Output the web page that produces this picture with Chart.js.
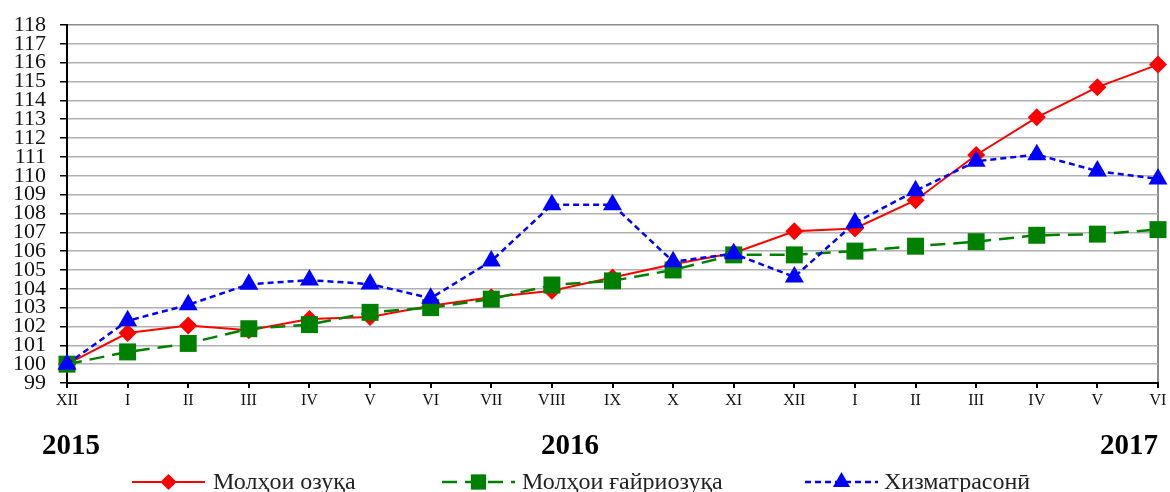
<!DOCTYPE html>
<html>
<head>
<meta charset="utf-8">
<script src="https://cdn.jsdelivr.net/npm/chart.js@4"></script>
<style>
  html, body { margin: 0; padding: 0; background: #fff; }
  .chart-box { width: 1170px; height: 492px; position: relative; }
</style>
</head>
<body>
<div class="chart-box"><canvas id="priceChart"></canvas></div>
<script>
// Chart data (index, XII 2015 = 100)
const months = ['XII', 'I', 'II', 'III', 'IV', 'V', 'VI', 'VII', 'VIII', 'IX', 'X', 'XI', 'XII', 'I', 'II', 'III', 'IV', 'V', 'VI'];
const foodValues = [100, 101.65, 102.05, 101.8, 102.4, 102.5, 103.1, 103.55, 103.9, 104.6, 105.3, 105.9, 107.05, 107.2, 108.7, 111.1, 113.1, 114.7, 115.9];
const nonFoodValues = [100, 100.65, 101.1, 101.88, 102.1, 102.75, 103.0, 103.45, 104.2, 104.42, 105.0, 105.8, 105.8, 106.0, 106.26, 106.5, 106.84, 106.9, 107.14];
const serviceValues = [100, 102.3, 103.15, 104.24, 104.46, 104.25, 103.5, 105.47, 108.46, 108.46, 105.44, 105.86, 104.63, 107.5, 109.2, 110.77, 111.12, 110.25, 109.83];
const seriesNames = ['Молҳои озуқа', 'Молҳои ғайриозуқа', 'Хизматрасонӣ'];
const yearLabels = ['2015', '2016', '2017'];

const serif = '"Liberation Serif", "Times New Roman", serif';

const seriesStyles = [
  { color: '#ff0000', dash: [], width: 2, point: 'rectRot', radius: 9 },
  { color: '#008000', dash: [15, 8], width: 2.5, point: 'rect', radius: 12 },
  { color: '#0000ff', dash: [6, 4], width: 2.5, point: 'triangle', radius: 11 }
];

// years under the axis + custom legend (line + marker)
const extrasPlugin = {
  id: 'extras',
  afterDraw(chart) {
    const c = chart.ctx;
    const area = chart.chartArea;
    c.save();
    c.fillStyle = '#000';
    c.font = 'bold 29px ' + serif;
    c.textBaseline = 'alphabetic';
    c.textAlign = 'center';
    c.fillText(yearLabels[0], area.left + 4, 454);
    c.fillText(yearLabels[1], 570, 454);
    c.textAlign = 'right';
    c.fillText(yearLabels[2], area.right, 454);

    // legend
    const items = [
      { x0: 132, x1: 205, tx: 213 },
      { x0: 442, x1: 515, tx: 522 },
      { x0: 805, x1: 878, tx: 884 }
    ];
    const ly = 482;
    items.forEach(function(it, i) {
      const st = seriesStyles[i];
      c.strokeStyle = st.color;
      c.lineWidth = st.width;
      c.setLineDash(st.dash);
      c.beginPath();
      c.moveTo(it.x0, ly);
      c.lineTo(it.x1, ly);
      c.stroke();
      c.setLineDash([]);
      c.fillStyle = st.color;
      Chart.helpers.drawPoint(c, {
        pointStyle: st.point,
        radius: st.radius * 0.9,
        rotation: 0,
        borderWidth: 0
      }, (it.x0 + it.x1) / 2, ly);
      c.fillStyle = '#222';
      c.font = '24px ' + serif;
      c.textAlign = 'left';
      c.fillText(seriesNames[i], it.tx, 489);
    });
    c.restore();
  }
};

const datasets = [foodValues, nonFoodValues, serviceValues].map(function(values, i) {
  const st = seriesStyles[i];
  return {
    label: seriesNames[i],
    data: values,
    borderColor: st.color,
    backgroundColor: st.color,
    borderWidth: st.width,
    borderDash: st.dash,
    pointStyle: st.point,
    pointRadius: st.radius,
    pointBorderWidth: 0,
    pointBackgroundColor: st.color,
    tension: 0,
    order: 2 - i
  };
});

const ctx = document.getElementById('priceChart').getContext('2d');
const priceChart = new Chart(ctx, {
  type: 'line',
  data: { labels: months, datasets: datasets },
  options: {
    responsive: true,
    maintainAspectRatio: false,
    animation: false,
    layout: { padding: { top: 12, right: 12, bottom: 0, left: 0 } },
    scales: {
      x: {
        offset: false,
        grid: {
          drawOnChartArea: true,
          color: function(c) { return c.index === months.length - 1 ? '#8c8c8c' : 'rgba(0,0,0,0)'; },
          lineWidth: 2,
          tickColor: '#000',
          tickLength: 5
        },
        border: { color: '#000', width: 2 },
        ticks: {
          color: '#111',
          font: { family: serif, size: 16 },
          padding: 3,
          maxRotation: 0,
          autoSkip: false
        },
        afterFit: function(scale) { scale.height = 109; }
      },
      y: {
        min: 99,
        max: 118,
        grid: {
          color: function(c) { return c.tick.value === 118 ? '#8c8c8c' : '#b0b0b0'; },
          lineWidth: 1.5,
          tickColor: '#000',
          tickLength: 7
        },
        border: { color: '#000', width: 2 },
        ticks: {
          stepSize: 1,
          autoSkip: false,
          color: '#111',
          font: { family: serif, size: 22, lineHeight: 1 },
          padding: 14
        },
        afterFit: function(scale) { scale.width = 67; }
      }
    },
    plugins: {
      legend: { display: false },
      tooltip: { enabled: false }
    }
  },
  plugins: [extrasPlugin]
});
</script>
</body>
</html>
